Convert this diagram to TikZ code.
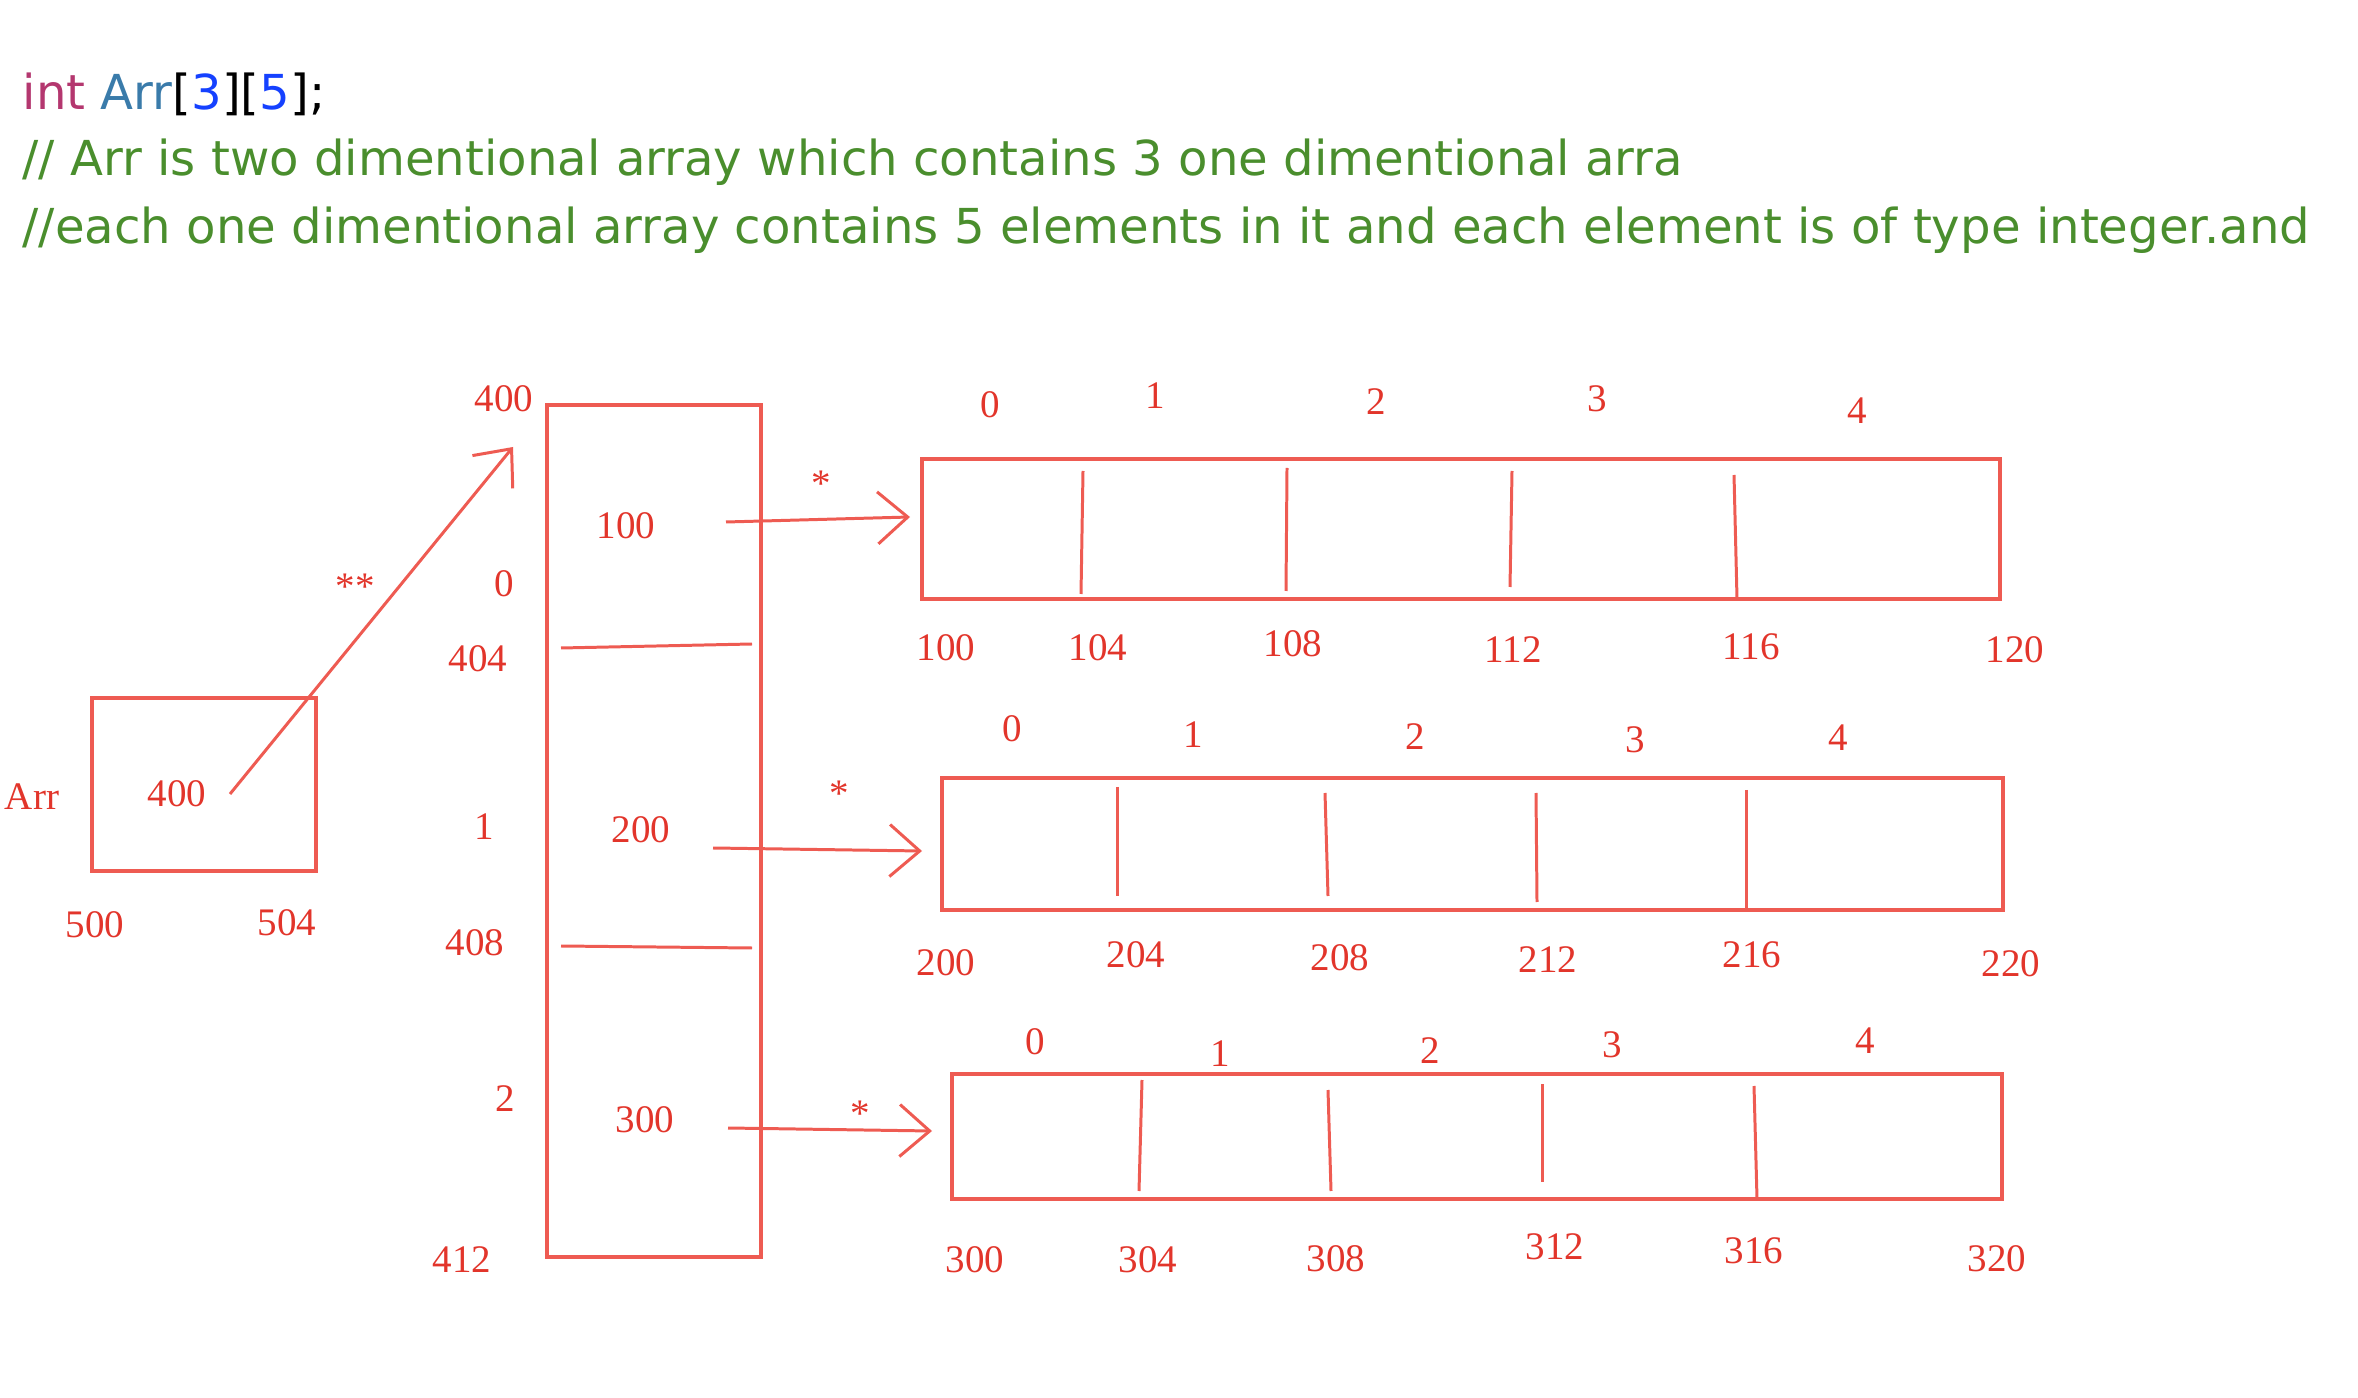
\documentclass[tikz,border=0pt]{standalone}
\usepackage{fontspec}
\usepackage{tikz}
\usepackage{xcolor}
\usetikzlibrary{arrows.meta,positioning}
\setmainfont{Liberation Serif}
\newfontfamily\codefont{DejaVu Sans}
\definecolor{Ink}{HTML}{EE5B52}
\definecolor{InkText}{HTML}{E2352B}
\definecolor{KeyPink}{HTML}{B4376F}
\definecolor{TypeBlue}{HTML}{3A7BAA}
\definecolor{NumBlue}{HTML}{1541FF}
\definecolor{CmtGreen}{HTML}{4A8E2D}

\begin{document}
\begin{tikzpicture}[
  x=0.01cm,y=-0.01cm,
  code/.style={anchor=base west,inner sep=0pt,font=\codefont\fontsize{13.7pt}{16pt}\selectfont},
  cell/.style={draw=Ink,line width=1.15pt,inner sep=0pt},
  sep/.style={draw=Ink,line width=0.85pt},
  num/.style={text=InkText,inner sep=0pt,font=\fontsize{11.1pt}{13pt}\selectfont},
  ptr/.style={draw=Ink,line width=0.85pt,-{Straight Barb[length=0.3cm,width=0.52cm]}}
]
\useasboundingbox (0,0) rectangle (2358,1398);
% declaration and comments
\node[code] (decl) at (22,110) {\textcolor{KeyPink}{int} \textcolor{TypeBlue}{Arr}[\textcolor{NumBlue}{3}][\textcolor{NumBlue}{5}];};
\node[code,text=CmtGreen] (cmt1) at (22,176) {// Arr is two dimentional array which contains 3 one dimentional arra};
\node[code,text=CmtGreen] (cmt2) at (22,244) {//each one dimentional array contains 5 elements in it and each element is of type integer.and};

% pointer Arr
\node[cell,minimum width=2.24cm,minimum height=1.73cm] (arr) at (204,784.5) {};
\node[num] (arrname) at (32,797) {Arr};
\node[num] (arrval) at (177,794) {400};
\node[num] (a500) at (95,925) {500};
\node[num] (a504) at (287,923) {504};
\coordinate (arrtail) at (230,794);
\coordinate (arrtip) at (513,447);
\draw[ptr] (arrtail) -- (arrtip);
\node[num] (dstar) at (355,587) {**};

% array of row pointers
\node[cell,minimum width=2.14cm,minimum height=8.52cm] (col) at (654,831) {};
\draw[sep] (561,648) -- (752,644);
\draw[sep] (561,946) -- (752,948);
\node[num] (c400) at (504,399) {400};
\node[num] (ci0) at (504,584) {0};
\node[num] (c404) at (478,659) {404};
\node[num] (ci1) at (484,827) {1};
\node[num] (c408) at (475,943) {408};
\node[num] (ci2) at (505,1099) {2};
\node[num] (c412) at (462,1260) {412};
\node[num] (cv100) at (626,526) {100};
\node[num] (cv200) at (641,830) {200};
\node[num] (cv300) at (645,1120) {300};

% row 0
\node[cell,minimum width=10.78cm,minimum height=1.40cm] (row0) at (1461,529) {};
\draw[sep] (1083,471) -- (1081,594);
\draw[sep] (1287,468) -- (1286,591);
\draw[sep] (1512,471) -- (1510,587);
\draw[sep] (1734,475) -- (1737,599);
\node[num] (r0i0) at (990,405) {0};
\node[num] (r0i1) at (1155,396) {1};
\node[num] (r0i2) at (1376,402) {2};
\node[num] (r0i3) at (1597,399) {3};
\node[num] (r0i4) at (1857,411) {4};
\node[num] (r0a0) at (946,648) {100};
\node[num] (r0a1) at (1098,648) {104};
\node[num] (r0a2) at (1293,644) {108};
\node[num] (r0a3) at (1513,650) {112};
\node[num] (r0a4) at (1751,647) {116};
\node[num] (r0a5) at (2015,650) {120};

% row 1
\node[cell,minimum width=10.61cm,minimum height=1.32cm] (row1) at (1472.5,844) {};
\draw[sep] (1117,787) -- (1117,896);
\draw[sep] (1325,793) -- (1328,896);
\draw[sep] (1536,793) -- (1537,902);
\draw[sep] (1746,790) -- (1746,908);
\node[num] (r1i0) at (1012,729) {0};
\node[num] (r1i1) at (1193,735) {1};
\node[num] (r1i2) at (1415,737) {2};
\node[num] (r1i3) at (1635,740) {3};
\node[num] (r1i4) at (1838,738) {4};
\node[num] (r1a0) at (946,963) {200};
\node[num] (r1a1) at (1136,955) {204};
\node[num] (r1a2) at (1340,958) {208};
\node[num] (r1a3) at (1548,960) {212};
\node[num] (r1a4) at (1752,955) {216};
\node[num] (r1a5) at (2011,964) {220};

% row 2
\node[cell,minimum width=10.50cm,minimum height=1.25cm] (row2) at (1477,1136.5) {};
\draw[sep] (1142,1080) -- (1139,1191);
\draw[sep] (1328,1090) -- (1331,1191);
\draw[sep] (1542,1084) -- (1542,1182);
\draw[sep] (1754,1086) -- (1757,1199);
\node[num] (r2i0) at (1035,1042) {0};
\node[num] (r2i1) at (1220,1054) {1};
\node[num] (r2i2) at (1430,1051) {2};
\node[num] (r2i3) at (1612,1045) {3};
\node[num] (r2i4) at (1865,1041) {4};
\node[num] (r2a0) at (975,1260) {300};
\node[num] (r2a1) at (1148,1260) {304};
\node[num] (r2a2) at (1336,1259) {308};
\node[num] (r2a3) at (1555,1247) {312};
\node[num] (r2a4) at (1754,1251) {316};
\node[num] (r2a5) at (1997,1259) {320};

% row pointers
\coordinate (t0) at (726,522);
\coordinate (h0) at (910,517);
\coordinate (t1) at (713,848);
\coordinate (h1) at (922,851);
\coordinate (t2) at (728,1128);
\coordinate (h2) at (932,1131);
\draw[ptr] (t0) -- (h0);
\draw[ptr] (t1) -- (h1);
\draw[ptr] (t2) -- (h2);
\node[num] (s0) at (821,484) {*};
\node[num] (s1) at (839,794) {*};
\node[num] (s2) at (860,1114) {*};
\end{tikzpicture}
\end{document}
